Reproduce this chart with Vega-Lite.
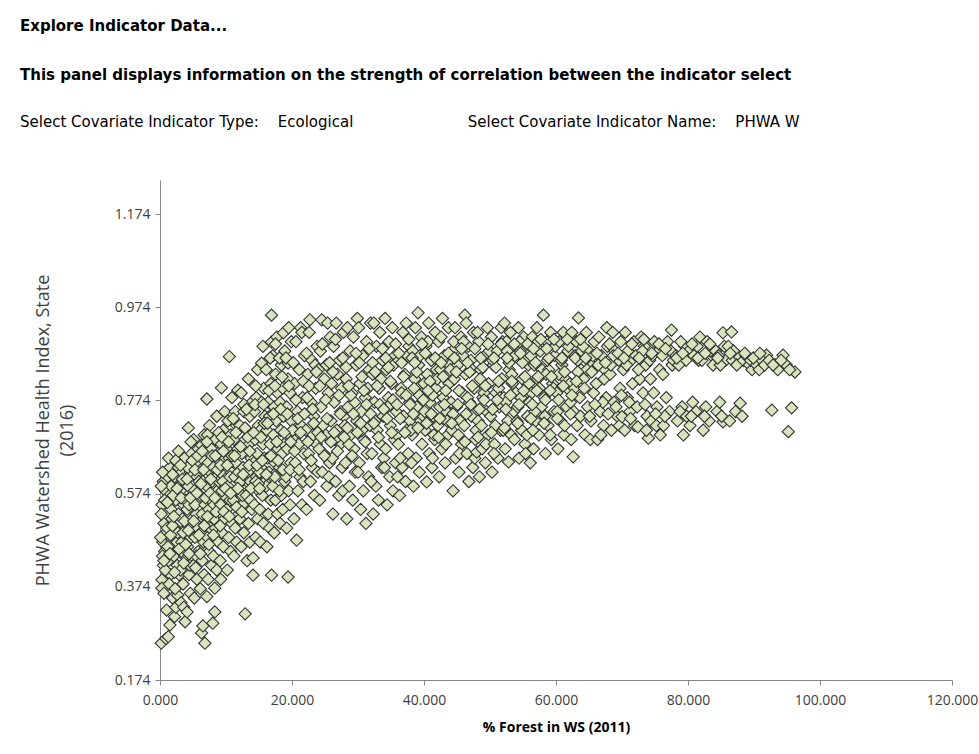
{
  "$schema": "https://vega.github.io/schema/vega-lite/v6.json",
  "width": 792,
  "height": 500,
  "autosize": {"type": "none"},
  "padding": {"left": 160, "top": 180, "right": 27, "bottom": 74},
  "background": "white",
  "title": {
    "text": ["Explore Indicator Data...", "This panel displays information on the strength of correlation between the indicator select"],
    "anchor": "start",
    "frame": "group",
    "dx": -140,
    "font": "DejaVu Sans",
    "fontSize": 15,
    "fontWeight": "bold",
    "color": "#000000",
    "lineHeight": 49,
    "offset": 50,
    "subtitle": "Select Covariate Indicator Type:\u00a0\u00a0\u00a0\u00a0Ecological\u00a0\u00a0\u00a0\u00a0\u00a0\u00a0\u00a0\u00a0\u00a0\u00a0\u00a0\u00a0\u00a0\u00a0\u00a0\u00a0\u00a0\u00a0\u00a0\u00a0\u00a0\u00a0\u00a0\u00a0Select Covariate Indicator Name:\u00a0\u00a0\u00a0\u00a0PHWA W",
    "subtitleFont": "DejaVu Sans",
    "subtitleFontSize": 15,
    "subtitleColor": "#000000",
    "subtitlePadding": 32
  },
  "config": {
    "view": {"stroke": null},
    "axis": {
      "grid": false,
      "domainColor": "#868686",
      "tickColor": "#868686",
      "tickSize": 5,
      "labelFlush": false,
      "labelFont": "Open Sans",
      "labelFontSize": 14,
      "labelColor": "#404040",
      "titleFont": "Open Sans",
      "titleColor": "#404040"
    }
  },
  "data": {"values": [
    {"forest":0.2,"phwa":0.253},{"forest":0.3,"phwa":0.389},{"forest":0.3,"phwa":0.371},{"forest":0.5,"phwa":0.42},{"forest":0.4,"phwa":0.47},{"forest":0.6,"phwa":0.51},{"forest":0.3,"phwa":0.55},{"forest":0.8,"phwa":0.58},{"forest":0.5,"phwa":0.6},{"forest":0.7,"phwa":0.45},{"forest":0.9,"phwa":0.49},{"forest":0.2,"phwa":0.53},{"forest":0.6,"phwa":0.36},{"forest":0.9,"phwa":0.263},{"forest":0.4,"phwa":0.44},
    {"forest":1.26,"phwa":0.267},{"forest":1.5,"phwa":0.292},{"forest":1.0,"phwa":0.324},{"forest":1.2,"phwa":0.61},{"forest":1.4,"phwa":0.57},{"forest":1.7,"phwa":0.54},{"forest":1.1,"phwa":0.5},{"forest":1.8,"phwa":0.47},{"forest":1.3,"phwa":0.43},{"forest":1.6,"phwa":0.4},{"forest":1.9,"phwa":0.35},{"forest":1.5,"phwa":0.63},{"forest":1.2,"phwa":0.46},{"forest":1.8,"phwa":0.52},{"forest":1.4,"phwa":0.38},{"forest":1.7,"phwa":0.59},
    {"forest":2.5,"phwa":0.642},{"forest":2.7,"phwa":0.356},{"forest":2.2,"phwa":0.31},{"forest":2.4,"phwa":0.33},{"forest":2.9,"phwa":0.4},{"forest":2.1,"phwa":0.44},{"forest":2.6,"phwa":0.47},{"forest":2.3,"phwa":0.5},{"forest":2.8,"phwa":0.53},{"forest":2.4,"phwa":0.56},{"forest":2.9,"phwa":0.59},{"forest":2.2,"phwa":0.61},{"forest":2.6,"phwa":0.42},{"forest":2.0,"phwa":0.57},{"forest":2.7,"phwa":0.49},{"forest":2.3,"phwa":0.37},{"forest":2.8,"phwa":0.63},
    {"forest":3.8,"phwa":0.299},{"forest":3.2,"phwa":0.34},{"forest":3.5,"phwa":0.38},{"forest":3.1,"phwa":0.41},{"forest":3.7,"phwa":0.44},{"forest":3.3,"phwa":0.47},{"forest":3.9,"phwa":0.5},{"forest":3.4,"phwa":0.52},{"forest":3.6,"phwa":0.55},{"forest":3.1,"phwa":0.58},{"forest":3.8,"phwa":0.6},{"forest":3.3,"phwa":0.62},{"forest":3.7,"phwa":0.65},{"forest":3.5,"phwa":0.49},{"forest":3.2,"phwa":0.45},{"forest":3.9,"phwa":0.56},{"forest":3.6,"phwa":0.33},
    {"forest":4.3,"phwa":0.715},{"forest":4.1,"phwa":0.32},{"forest":4.6,"phwa":0.36},{"forest":4.4,"phwa":0.4},{"forest":4.8,"phwa":0.43},{"forest":4.2,"phwa":0.46},{"forest":4.7,"phwa":0.48},{"forest":4.5,"phwa":0.51},{"forest":4.1,"phwa":0.54},{"forest":4.9,"phwa":0.57},{"forest":4.3,"phwa":0.59},{"forest":4.6,"phwa":0.62},{"forest":4.8,"phwa":0.66},{"forest":4.2,"phwa":0.63},{"forest":4.5,"phwa":0.42},{"forest":4.9,"phwa":0.52},{"forest":4.4,"phwa":0.55},
    {"forest":5.2,"phwa":0.35},{"forest":5.6,"phwa":0.39},{"forest":5.1,"phwa":0.42},{"forest":5.8,"phwa":0.45},{"forest":5.3,"phwa":0.48},{"forest":5.7,"phwa":0.5},{"forest":5.5,"phwa":0.53},{"forest":5.9,"phwa":0.56},{"forest":5.2,"phwa":0.58},{"forest":5.6,"phwa":0.61},{"forest":5.4,"phwa":0.64},{"forest":5.8,"phwa":0.67},{"forest":5.1,"phwa":0.69},{"forest":5.5,"phwa":0.44},{"forest":5.9,"phwa":0.6},{"forest":5.3,"phwa":0.55},
    {"forest":6.3,"phwa":0.275},{"forest":6.8,"phwa":0.253},{"forest":6.3,"phwa":0.678},{"forest":6.5,"phwa":0.29},{"forest":6.1,"phwa":0.37},{"forest":6.7,"phwa":0.4},{"forest":6.4,"phwa":0.43},{"forest":6.9,"phwa":0.46},{"forest":6.2,"phwa":0.49},{"forest":6.6,"phwa":0.52},{"forest":6.8,"phwa":0.55},{"forest":6.1,"phwa":0.57},{"forest":6.5,"phwa":0.6},{"forest":6.9,"phwa":0.63},{"forest":6.3,"phwa":0.65},{"forest":6.7,"phwa":0.7},{"forest":6.4,"phwa":0.53},{"forest":6.6,"phwa":0.47},
    {"forest":7.1,"phwa":0.777},{"forest":7.1,"phwa":0.353},{"forest":7.3,"phwa":0.39},{"forest":7.8,"phwa":0.42},{"forest":7.5,"phwa":0.45},{"forest":7.2,"phwa":0.48},{"forest":7.9,"phwa":0.51},{"forest":7.4,"phwa":0.54},{"forest":7.7,"phwa":0.56},{"forest":7.1,"phwa":0.59},{"forest":7.6,"phwa":0.62},{"forest":7.3,"phwa":0.64},{"forest":7.8,"phwa":0.67},{"forest":7.5,"phwa":0.72},{"forest":7.9,"phwa":0.6},{"forest":7.2,"phwa":0.7},{"forest":7.6,"phwa":0.5},
    {"forest":8.0,"phwa":0.296},{"forest":8.3,"phwa":0.32},{"forest":8.3,"phwa":0.371},{"forest":8.6,"phwa":0.41},{"forest":8.1,"phwa":0.44},{"forest":8.8,"phwa":0.47},{"forest":8.4,"phwa":0.5},{"forest":8.9,"phwa":0.53},{"forest":8.2,"phwa":0.55},{"forest":8.7,"phwa":0.58},{"forest":8.5,"phwa":0.61},{"forest":8.1,"phwa":0.63},{"forest":8.8,"phwa":0.66},{"forest":8.4,"phwa":0.69},{"forest":8.6,"phwa":0.74},{"forest":8.9,"phwa":0.6},{"forest":8.2,"phwa":0.52},
    {"forest":9.3,"phwa":0.801},{"forest":9.1,"phwa":0.43},{"forest":9.6,"phwa":0.46},{"forest":9.4,"phwa":0.49},{"forest":9.8,"phwa":0.52},{"forest":9.2,"phwa":0.55},{"forest":9.7,"phwa":0.57},{"forest":9.5,"phwa":0.6},{"forest":9.1,"phwa":0.62},{"forest":9.9,"phwa":0.65},{"forest":9.3,"phwa":0.68},{"forest":9.6,"phwa":0.71},{"forest":9.8,"phwa":0.75},{"forest":9.4,"phwa":0.58},{"forest":9.2,"phwa":0.39},
    {"forest":10.5,"phwa":0.868},{"forest":10.2,"phwa":0.41},{"forest":10.7,"phwa":0.45},{"forest":10.4,"phwa":0.48},{"forest":10.9,"phwa":0.51},{"forest":10.1,"phwa":0.54},{"forest":10.6,"phwa":0.56},{"forest":10.3,"phwa":0.59},{"forest":10.8,"phwa":0.62},{"forest":10.5,"phwa":0.65},{"forest":10.1,"phwa":0.67},{"forest":10.7,"phwa":0.7},{"forest":10.3,"phwa":0.73},{"forest":10.9,"phwa":0.78},{"forest":10.6,"phwa":0.61},
    {"forest":11.8,"phwa":0.796},{"forest":11.2,"phwa":0.44},{"forest":11.6,"phwa":0.47},{"forest":11.4,"phwa":0.5},{"forest":11.9,"phwa":0.53},{"forest":11.1,"phwa":0.56},{"forest":11.7,"phwa":0.58},{"forest":11.3,"phwa":0.61},{"forest":11.5,"phwa":0.64},{"forest":11.8,"phwa":0.67},{"forest":11.2,"phwa":0.69},{"forest":11.6,"phwa":0.72},{"forest":11.4,"phwa":0.75},{"forest":11.9,"phwa":0.62},
    {"forest":12.9,"phwa":0.316},{"forest":12.3,"phwa":0.46},{"forest":12.7,"phwa":0.49},{"forest":12.1,"phwa":0.52},{"forest":12.5,"phwa":0.55},{"forest":12.8,"phwa":0.58},{"forest":12.2,"phwa":0.6},{"forest":12.6,"phwa":0.63},{"forest":12.4,"phwa":0.66},{"forest":12.9,"phwa":0.69},{"forest":12.1,"phwa":0.72},{"forest":12.7,"phwa":0.75},{"forest":12.3,"phwa":0.79},{"forest":12.5,"phwa":0.57},
    {"forest":13.2,"phwa":0.43},{"forest":13.6,"phwa":0.47},{"forest":13.4,"phwa":0.51},{"forest":13.9,"phwa":0.54},{"forest":13.1,"phwa":0.57},{"forest":13.7,"phwa":0.6},{"forest":13.3,"phwa":0.62},{"forest":13.8,"phwa":0.65},{"forest":13.5,"phwa":0.68},{"forest":13.2,"phwa":0.71},{"forest":13.6,"phwa":0.74},{"forest":13.9,"phwa":0.77},{"forest":13.4,"phwa":0.82},{"forest":13.7,"phwa":0.56},
    {"forest":14.1,"phwa":0.399},{"forest":14.1,"phwa":0.436},{"forest":14.5,"phwa":0.48},{"forest":14.8,"phwa":0.52},{"forest":14.3,"phwa":0.55},{"forest":14.9,"phwa":0.58},{"forest":14.6,"phwa":0.61},{"forest":14.2,"phwa":0.64},{"forest":14.7,"phwa":0.66},{"forest":14.4,"phwa":0.69},{"forest":14.9,"phwa":0.72},{"forest":14.3,"phwa":0.75},{"forest":14.6,"phwa":0.78},{"forest":14.8,"phwa":0.84},{"forest":14.5,"phwa":0.6},
    {"forest":15.4,"phwa":0.854},{"forest":15.2,"phwa":0.47},{"forest":15.7,"phwa":0.51},{"forest":15.1,"phwa":0.54},{"forest":15.5,"phwa":0.57},{"forest":15.9,"phwa":0.6},{"forest":15.3,"phwa":0.63},{"forest":15.8,"phwa":0.65},{"forest":15.6,"phwa":0.68},{"forest":15.2,"phwa":0.71},{"forest":15.9,"phwa":0.74},{"forest":15.4,"phwa":0.77},{"forest":15.7,"phwa":0.8},{"forest":15.1,"phwa":0.62},{"forest":15.6,"phwa":0.89},
    {"forest":16.9,"phwa":0.957},{"forest":16.9,"phwa":0.899},{"forest":16.9,"phwa":0.399},{"forest":16.2,"phwa":0.46},{"forest":16.6,"phwa":0.5},{"forest":16.4,"phwa":0.53},{"forest":16.8,"phwa":0.56},{"forest":16.1,"phwa":0.59},{"forest":16.5,"phwa":0.62},{"forest":16.3,"phwa":0.65},{"forest":16.7,"phwa":0.68},{"forest":16.2,"phwa":0.71},{"forest":16.6,"phwa":0.74},{"forest":16.4,"phwa":0.77},{"forest":16.8,"phwa":0.81},{"forest":16.1,"phwa":0.84},
    {"forest":17.3,"phwa":0.49},{"forest":17.8,"phwa":0.53},{"forest":17.5,"phwa":0.56},{"forest":17.1,"phwa":0.59},{"forest":17.7,"phwa":0.62},{"forest":17.4,"phwa":0.64},{"forest":17.9,"phwa":0.67},{"forest":17.2,"phwa":0.7},{"forest":17.6,"phwa":0.73},{"forest":17.3,"phwa":0.76},{"forest":17.8,"phwa":0.79},{"forest":17.5,"phwa":0.83},{"forest":17.1,"phwa":0.87},{"forest":17.7,"phwa":0.91},{"forest":17.4,"phwa":0.61},
    {"forest":18.7,"phwa":0.919},{"forest":18.2,"phwa":0.51},{"forest":18.6,"phwa":0.54},{"forest":18.4,"phwa":0.57},{"forest":18.9,"phwa":0.6},{"forest":18.1,"phwa":0.63},{"forest":18.5,"phwa":0.66},{"forest":18.8,"phwa":0.68},{"forest":18.3,"phwa":0.71},{"forest":18.7,"phwa":0.74},{"forest":18.2,"phwa":0.77},{"forest":18.6,"phwa":0.8},{"forest":18.4,"phwa":0.85},{"forest":18.9,"phwa":0.88},{"forest":18.1,"phwa":0.58},
    {"forest":19.4,"phwa":0.395},{"forest":19.4,"phwa":0.854},{"forest":19.2,"phwa":0.5},{"forest":19.7,"phwa":0.55},{"forest":19.5,"phwa":0.58},{"forest":19.1,"phwa":0.61},{"forest":19.8,"phwa":0.64},{"forest":19.3,"phwa":0.67},{"forest":19.6,"phwa":0.7},{"forest":19.9,"phwa":0.73},{"forest":19.2,"phwa":0.76},{"forest":19.7,"phwa":0.79},{"forest":19.4,"phwa":0.82},{"forest":19.9,"phwa":0.9},{"forest":19.5,"phwa":0.93},
    {"forest":20.7,"phwa":0.474},{"forest":20.3,"phwa":0.52},{"forest":21.5,"phwa":0.55},{"forest":20.9,"phwa":0.58},{"forest":21.2,"phwa":0.61},{"forest":20.5,"phwa":0.64},{"forest":21.8,"phwa":0.66},{"forest":20.2,"phwa":0.69},{"forest":21.4,"phwa":0.72},{"forest":20.8,"phwa":0.75},{"forest":21.6,"phwa":0.78},{"forest":20.4,"phwa":0.81},{"forest":21.1,"phwa":0.84},{"forest":21.9,"phwa":0.87},{"forest":20.6,"phwa":0.9},{"forest":21.3,"phwa":0.93},{"forest":21.7,"phwa":0.6},{"forest":20.1,"phwa":0.71},{"forest":21.0,"phwa":0.68},{"forest":21.5,"phwa":0.92},
    {"forest":22.7,"phwa":0.947},{"forest":22.2,"phwa":0.54},{"forest":23.4,"phwa":0.57},{"forest":22.8,"phwa":0.6},{"forest":23.1,"phwa":0.63},{"forest":22.5,"phwa":0.66},{"forest":23.7,"phwa":0.68},{"forest":22.1,"phwa":0.71},{"forest":23.3,"phwa":0.74},{"forest":22.9,"phwa":0.77},{"forest":23.6,"phwa":0.8},{"forest":22.4,"phwa":0.83},{"forest":23.0,"phwa":0.86},{"forest":23.8,"phwa":0.89},{"forest":22.6,"phwa":0.92},{"forest":23.2,"phwa":0.7},{"forest":23.9,"phwa":0.62},{"forest":22.3,"phwa":0.78},{"forest":23.5,"phwa":0.85},
    {"forest":24.5,"phwa":0.947},{"forest":24.8,"phwa":0.66},{"forest":24.2,"phwa":0.56},{"forest":25.3,"phwa":0.59},{"forest":24.6,"phwa":0.62},{"forest":25.7,"phwa":0.64},{"forest":24.1,"phwa":0.67},{"forest":25.1,"phwa":0.7},{"forest":25.9,"phwa":0.73},{"forest":24.4,"phwa":0.76},{"forest":25.5,"phwa":0.79},{"forest":24.9,"phwa":0.82},{"forest":25.2,"phwa":0.85},{"forest":24.3,"phwa":0.88},{"forest":25.8,"phwa":0.91},{"forest":25.4,"phwa":0.94},{"forest":24.7,"phwa":0.72},{"forest":25.6,"phwa":0.61},{"forest":24.0,"phwa":0.84},
    {"forest":26.2,"phwa":0.53},{"forest":27.1,"phwa":0.57},{"forest":26.6,"phwa":0.6},{"forest":27.6,"phwa":0.63},{"forest":26.1,"phwa":0.65},{"forest":27.3,"phwa":0.68},{"forest":26.8,"phwa":0.71},{"forest":27.9,"phwa":0.74},{"forest":26.4,"phwa":0.77},{"forest":27.5,"phwa":0.8},{"forest":26.9,"phwa":0.83},{"forest":27.2,"phwa":0.86},{"forest":26.3,"phwa":0.89},{"forest":27.8,"phwa":0.92},{"forest":26.7,"phwa":0.94},{"forest":27.4,"phwa":0.75},{"forest":26.5,"phwa":0.69},{"forest":27.7,"phwa":0.58},{"forest":26.0,"phwa":0.81},
    {"forest":28.3,"phwa":0.52},{"forest":29.2,"phwa":0.56},{"forest":28.7,"phwa":0.59},{"forest":29.6,"phwa":0.62},{"forest":28.1,"phwa":0.64},{"forest":29.4,"phwa":0.67},{"forest":28.9,"phwa":0.7},{"forest":29.8,"phwa":0.73},{"forest":28.5,"phwa":0.76},{"forest":29.1,"phwa":0.79},{"forest":28.2,"phwa":0.82},{"forest":29.7,"phwa":0.85},{"forest":28.8,"phwa":0.88},{"forest":29.3,"phwa":0.91},{"forest":28.4,"phwa":0.93},{"forest":29.9,"phwa":0.95},{"forest":28.6,"phwa":0.68},{"forest":29.5,"phwa":0.77},{"forest":28.0,"phwa":0.72},
    {"forest":30.4,"phwa":0.54},{"forest":31.2,"phwa":0.51},{"forest":30.8,"phwa":0.58},{"forest":31.6,"phwa":0.61},{"forest":30.2,"phwa":0.64},{"forest":31.4,"phwa":0.66},{"forest":30.9,"phwa":0.69},{"forest":31.8,"phwa":0.72},{"forest":30.5,"phwa":0.75},{"forest":31.1,"phwa":0.78},{"forest":30.3,"phwa":0.81},{"forest":31.7,"phwa":0.84},{"forest":30.7,"phwa":0.87},{"forest":31.3,"phwa":0.9},{"forest":30.1,"phwa":0.93},{"forest":31.9,"phwa":0.94},{"forest":30.6,"phwa":0.71},{"forest":31.5,"phwa":0.8},{"forest":30.0,"phwa":0.62},
    {"forest":32.3,"phwa":0.53},{"forest":33.1,"phwa":0.56},{"forest":32.7,"phwa":0.59},{"forest":33.6,"phwa":0.63},{"forest":32.1,"phwa":0.66},{"forest":33.4,"phwa":0.68},{"forest":32.9,"phwa":0.71},{"forest":33.8,"phwa":0.74},{"forest":32.5,"phwa":0.77},{"forest":33.2,"phwa":0.8},{"forest":32.2,"phwa":0.83},{"forest":33.7,"phwa":0.86},{"forest":32.8,"phwa":0.89},{"forest":33.3,"phwa":0.92},{"forest":32.4,"phwa":0.94},{"forest":33.9,"phwa":0.65},{"forest":32.6,"phwa":0.73},{"forest":33.5,"phwa":0.82},{"forest":32.0,"phwa":0.6},
    {"forest":34.4,"phwa":0.55},{"forest":35.3,"phwa":0.58},{"forest":34.8,"phwa":0.61},{"forest":35.7,"phwa":0.64},{"forest":34.2,"phwa":0.67},{"forest":35.5,"phwa":0.69},{"forest":34.9,"phwa":0.72},{"forest":35.8,"phwa":0.75},{"forest":34.6,"phwa":0.78},{"forest":35.1,"phwa":0.81},{"forest":34.3,"phwa":0.84},{"forest":35.6,"phwa":0.87},{"forest":34.7,"phwa":0.9},{"forest":35.2,"phwa":0.93},{"forest":34.1,"phwa":0.95},{"forest":35.9,"phwa":0.7},{"forest":34.5,"phwa":0.76},{"forest":35.4,"phwa":0.85},{"forest":34.0,"phwa":0.63},
    {"forest":36.3,"phwa":0.57},{"forest":37.2,"phwa":0.6},{"forest":36.7,"phwa":0.63},{"forest":37.6,"phwa":0.66},{"forest":36.1,"phwa":0.68},{"forest":37.4,"phwa":0.71},{"forest":36.9,"phwa":0.74},{"forest":37.8,"phwa":0.77},{"forest":36.5,"phwa":0.8},{"forest":37.1,"phwa":0.83},{"forest":36.2,"phwa":0.86},{"forest":37.7,"phwa":0.89},{"forest":36.8,"phwa":0.92},{"forest":37.3,"phwa":0.94},{"forest":36.4,"phwa":0.65},{"forest":37.9,"phwa":0.73},{"forest":36.6,"phwa":0.79},{"forest":37.5,"phwa":0.87},{"forest":36.0,"phwa":0.61},
    {"forest":39.1,"phwa":0.962},{"forest":38.4,"phwa":0.59},{"forest":39.3,"phwa":0.62},{"forest":38.8,"phwa":0.65},{"forest":39.7,"phwa":0.68},{"forest":38.2,"phwa":0.7},{"forest":39.5,"phwa":0.73},{"forest":38.9,"phwa":0.76},{"forest":39.8,"phwa":0.79},{"forest":38.6,"phwa":0.82},{"forest":39.2,"phwa":0.85},{"forest":38.3,"phwa":0.88},{"forest":39.6,"phwa":0.91},{"forest":38.7,"phwa":0.93},{"forest":38.1,"phwa":0.64},{"forest":39.9,"phwa":0.74},{"forest":38.5,"phwa":0.8},{"forest":39.4,"phwa":0.87},{"forest":38.0,"phwa":0.71},
    {"forest":40.4,"phwa":0.599},{"forest":41.2,"phwa":0.63},{"forest":40.8,"phwa":0.66},{"forest":41.6,"phwa":0.69},{"forest":40.2,"phwa":0.71},{"forest":41.4,"phwa":0.74},{"forest":40.9,"phwa":0.77},{"forest":41.8,"phwa":0.8},{"forest":40.5,"phwa":0.83},{"forest":41.1,"phwa":0.86},{"forest":40.3,"phwa":0.89},{"forest":41.7,"phwa":0.92},{"forest":40.7,"phwa":0.94},{"forest":41.3,"phwa":0.65},{"forest":40.1,"phwa":0.75},{"forest":41.9,"phwa":0.84},{"forest":40.6,"phwa":0.9},{"forest":41.5,"phwa":0.7},{"forest":40.0,"phwa":0.81},
    {"forest":42.3,"phwa":0.61},{"forest":43.2,"phwa":0.64},{"forest":42.7,"phwa":0.67},{"forest":43.6,"phwa":0.7},{"forest":42.1,"phwa":0.72},{"forest":43.4,"phwa":0.75},{"forest":42.9,"phwa":0.78},{"forest":43.8,"phwa":0.81},{"forest":42.5,"phwa":0.84},{"forest":43.1,"phwa":0.87},{"forest":42.2,"phwa":0.9},{"forest":43.7,"phwa":0.93},{"forest":42.8,"phwa":0.95},{"forest":43.3,"phwa":0.68},{"forest":42.4,"phwa":0.76},{"forest":43.9,"phwa":0.85},{"forest":42.6,"phwa":0.91},{"forest":43.5,"phwa":0.73},{"forest":42.0,"phwa":0.82},
    {"forest":44.4,"phwa":0.58},{"forest":45.3,"phwa":0.62},{"forest":44.8,"phwa":0.65},{"forest":45.7,"phwa":0.68},{"forest":44.2,"phwa":0.71},{"forest":45.5,"phwa":0.73},{"forest":44.9,"phwa":0.76},{"forest":45.8,"phwa":0.79},{"forest":44.6,"phwa":0.82},{"forest":45.1,"phwa":0.85},{"forest":44.3,"phwa":0.88},{"forest":45.6,"phwa":0.91},{"forest":44.7,"phwa":0.93},{"forest":45.2,"phwa":0.7},{"forest":44.1,"phwa":0.77},{"forest":45.9,"phwa":0.87},{"forest":44.5,"phwa":0.9},{"forest":45.4,"phwa":0.66},{"forest":44.0,"phwa":0.84},
    {"forest":46.2,"phwa":0.957},{"forest":46.8,"phwa":0.6},{"forest":47.4,"phwa":0.63},{"forest":46.5,"phwa":0.66},{"forest":47.8,"phwa":0.69},{"forest":46.1,"phwa":0.72},{"forest":47.2,"phwa":0.74},{"forest":46.9,"phwa":0.77},{"forest":47.6,"phwa":0.8},{"forest":46.3,"phwa":0.83},{"forest":47.1,"phwa":0.86},{"forest":46.7,"phwa":0.89},{"forest":47.5,"phwa":0.92},{"forest":46.4,"phwa":0.94},{"forest":47.9,"phwa":0.71},{"forest":46.6,"phwa":0.78},{"forest":47.3,"phwa":0.84},{"forest":46.0,"phwa":0.9},{"forest":47.7,"phwa":0.65},
    {"forest":48.0,"phwa":0.663},{"forest":48.4,"phwa":0.61},{"forest":49.3,"phwa":0.64},{"forest":48.8,"phwa":0.67},{"forest":49.7,"phwa":0.7},{"forest":48.2,"phwa":0.73},{"forest":49.5,"phwa":0.75},{"forest":48.9,"phwa":0.78},{"forest":49.8,"phwa":0.81},{"forest":48.6,"phwa":0.84},{"forest":49.2,"phwa":0.87},{"forest":48.3,"phwa":0.9},{"forest":49.6,"phwa":0.93},{"forest":48.7,"phwa":0.72},{"forest":49.1,"phwa":0.79},{"forest":49.9,"phwa":0.88},{"forest":48.5,"phwa":0.82},{"forest":49.4,"phwa":0.68},{"forest":48.1,"phwa":0.92},
    {"forest":50.3,"phwa":0.62},{"forest":51.2,"phwa":0.65},{"forest":50.7,"phwa":0.68},{"forest":51.6,"phwa":0.71},{"forest":50.1,"phwa":0.74},{"forest":51.4,"phwa":0.76},{"forest":50.9,"phwa":0.79},{"forest":51.8,"phwa":0.82},{"forest":50.5,"phwa":0.85},{"forest":51.1,"phwa":0.88},{"forest":50.2,"phwa":0.91},{"forest":51.7,"phwa":0.93},{"forest":50.8,"phwa":0.72},{"forest":51.3,"phwa":0.8},{"forest":50.4,"phwa":0.86},{"forest":51.9,"phwa":0.9},{"forest":50.6,"phwa":0.66},{"forest":51.5,"phwa":0.78},
    {"forest":52.8,"phwa":0.642},{"forest":52.3,"phwa":0.67},{"forest":53.2,"phwa":0.7},{"forest":52.7,"phwa":0.73},{"forest":53.6,"phwa":0.75},{"forest":52.1,"phwa":0.78},{"forest":53.4,"phwa":0.81},{"forest":52.9,"phwa":0.84},{"forest":53.8,"phwa":0.87},{"forest":52.5,"phwa":0.9},{"forest":53.1,"phwa":0.92},{"forest":52.2,"phwa":0.94},{"forest":53.7,"phwa":0.69},{"forest":52.4,"phwa":0.77},{"forest":53.3,"phwa":0.83},{"forest":52.6,"phwa":0.88},{"forest":53.9,"phwa":0.79},{"forest":52.0,"phwa":0.71},
    {"forest":54.4,"phwa":0.65},{"forest":55.3,"phwa":0.68},{"forest":54.8,"phwa":0.71},{"forest":55.7,"phwa":0.74},{"forest":54.2,"phwa":0.76},{"forest":55.5,"phwa":0.79},{"forest":54.9,"phwa":0.82},{"forest":55.8,"phwa":0.85},{"forest":54.6,"phwa":0.88},{"forest":55.1,"phwa":0.91},{"forest":54.3,"phwa":0.93},{"forest":55.6,"phwa":0.7},{"forest":54.7,"phwa":0.78},{"forest":55.2,"phwa":0.86},{"forest":54.1,"phwa":0.73},{"forest":55.9,"phwa":0.81},{"forest":54.5,"phwa":0.9},{"forest":55.4,"phwa":0.66},
    {"forest":56.1,"phwa":0.64},{"forest":56.6,"phwa":0.67},{"forest":57.4,"phwa":0.7},{"forest":56.9,"phwa":0.73},{"forest":57.8,"phwa":0.76},{"forest":56.3,"phwa":0.79},{"forest":57.2,"phwa":0.82},{"forest":56.7,"phwa":0.85},{"forest":57.6,"phwa":0.88},{"forest":56.4,"phwa":0.91},{"forest":57.1,"phwa":0.93},{"forest":56.8,"phwa":0.75},{"forest":57.5,"phwa":0.8},{"forest":56.2,"phwa":0.87},{"forest":57.9,"phwa":0.84},{"forest":56.5,"phwa":0.71},{"forest":57.3,"phwa":0.9},{"forest":56.0,"phwa":0.77},
    {"forest":58.1,"phwa":0.957},{"forest":58.4,"phwa":0.66},{"forest":59.3,"phwa":0.69},{"forest":58.8,"phwa":0.72},{"forest":59.7,"phwa":0.75},{"forest":58.2,"phwa":0.78},{"forest":59.5,"phwa":0.81},{"forest":58.9,"phwa":0.84},{"forest":59.8,"phwa":0.87},{"forest":58.6,"phwa":0.9},{"forest":59.2,"phwa":0.92},{"forest":58.3,"phwa":0.74},{"forest":59.6,"phwa":0.8},{"forest":58.7,"phwa":0.86},{"forest":59.1,"phwa":0.7},{"forest":59.9,"phwa":0.89},{"forest":58.5,"phwa":0.83},
    {"forest":60.3,"phwa":0.67},{"forest":61.2,"phwa":0.7},{"forest":60.7,"phwa":0.73},{"forest":61.6,"phwa":0.76},{"forest":60.1,"phwa":0.79},{"forest":61.4,"phwa":0.82},{"forest":60.9,"phwa":0.85},{"forest":61.8,"phwa":0.88},{"forest":60.5,"phwa":0.9},{"forest":61.1,"phwa":0.92},{"forest":60.2,"phwa":0.75},{"forest":61.7,"phwa":0.8},{"forest":60.8,"phwa":0.86},{"forest":61.3,"phwa":0.72},{"forest":60.4,"phwa":0.83},{"forest":61.9,"phwa":0.89},
    {"forest":62.6,"phwa":0.653},{"forest":63.4,"phwa":0.951},{"forest":62.3,"phwa":0.69},{"forest":63.2,"phwa":0.72},{"forest":62.7,"phwa":0.75},{"forest":63.6,"phwa":0.78},{"forest":62.1,"phwa":0.81},{"forest":63.8,"phwa":0.84},{"forest":62.9,"phwa":0.87},{"forest":63.1,"phwa":0.9},{"forest":62.4,"phwa":0.92},{"forest":63.7,"phwa":0.74},{"forest":62.8,"phwa":0.8},{"forest":63.3,"phwa":0.86},{"forest":62.2,"phwa":0.77},{"forest":63.9,"phwa":0.88},
    {"forest":64.4,"phwa":0.7},{"forest":65.3,"phwa":0.73},{"forest":64.8,"phwa":0.76},{"forest":65.7,"phwa":0.79},{"forest":64.2,"phwa":0.82},{"forest":65.5,"phwa":0.85},{"forest":64.9,"phwa":0.88},{"forest":65.8,"phwa":0.9},{"forest":64.6,"phwa":0.92},{"forest":65.1,"phwa":0.74},{"forest":64.3,"phwa":0.8},{"forest":65.6,"phwa":0.87},{"forest":64.7,"phwa":0.84},{"forest":65.2,"phwa":0.69},{"forest":64.1,"phwa":0.89},
    {"forest":66.3,"phwa":0.69},{"forest":67.2,"phwa":0.72},{"forest":66.7,"phwa":0.75},{"forest":67.6,"phwa":0.78},{"forest":66.1,"phwa":0.81},{"forest":67.4,"phwa":0.84},{"forest":66.9,"phwa":0.87},{"forest":67.8,"phwa":0.89},{"forest":66.5,"phwa":0.91},{"forest":67.1,"phwa":0.77},{"forest":66.4,"phwa":0.85},{"forest":67.7,"phwa":0.93},{"forest":66.8,"phwa":0.7},{"forest":67.3,"phwa":0.82},
    {"forest":68.4,"phwa":0.71},{"forest":69.3,"phwa":0.74},{"forest":68.8,"phwa":0.77},{"forest":69.7,"phwa":0.8},{"forest":68.2,"phwa":0.83},{"forest":69.5,"phwa":0.86},{"forest":68.9,"phwa":0.88},{"forest":69.8,"phwa":0.9},{"forest":68.6,"phwa":0.92},{"forest":69.1,"phwa":0.76},{"forest":68.3,"phwa":0.85},{"forest":69.6,"phwa":0.72},{"forest":68.7,"phwa":0.87},
    {"forest":70.0,"phwa":0.739},{"forest":70.4,"phwa":0.71},{"forest":71.2,"phwa":0.75},{"forest":70.8,"phwa":0.78},{"forest":71.6,"phwa":0.81},{"forest":70.2,"phwa":0.84},{"forest":71.4,"phwa":0.86},{"forest":70.9,"phwa":0.88},{"forest":71.8,"phwa":0.9},{"forest":70.5,"phwa":0.92},{"forest":71.1,"phwa":0.77},{"forest":70.7,"phwa":0.85},{"forest":71.9,"phwa":0.72},
    {"forest":72.4,"phwa":0.717},{"forest":74.0,"phwa":0.693},{"forest":72.3,"phwa":0.76},{"forest":73.2,"phwa":0.79},{"forest":72.7,"phwa":0.82},{"forest":73.6,"phwa":0.85},{"forest":72.1,"phwa":0.87},{"forest":73.4,"phwa":0.89},{"forest":72.9,"phwa":0.91},{"forest":73.8,"phwa":0.74},{"forest":72.5,"phwa":0.84},{"forest":73.1,"phwa":0.88},{"forest":73.7,"phwa":0.71},
    {"forest":74.4,"phwa":0.73},{"forest":75.3,"phwa":0.76},{"forest":74.8,"phwa":0.79},{"forest":75.7,"phwa":0.84},{"forest":74.2,"phwa":0.86},{"forest":75.5,"phwa":0.88},{"forest":74.9,"phwa":0.9},{"forest":75.2,"phwa":0.72},{"forest":74.6,"phwa":0.87},{"forest":75.8,"phwa":0.7},{"forest":74.3,"phwa":0.82},
    {"forest":77.5,"phwa":0.925},{"forest":76.3,"phwa":0.72},{"forest":77.2,"phwa":0.75},{"forest":76.7,"phwa":0.78},{"forest":77.6,"phwa":0.85},{"forest":76.1,"phwa":0.87},{"forest":77.4,"phwa":0.88},{"forest":76.9,"phwa":0.9},{"forest":76.5,"phwa":0.74},{"forest":77.8,"phwa":0.86},{"forest":76.2,"phwa":0.83},
    {"forest":79.3,"phwa":0.7},{"forest":78.4,"phwa":0.73},{"forest":79.1,"phwa":0.76},{"forest":78.8,"phwa":0.75},{"forest":79.7,"phwa":0.86},{"forest":78.2,"phwa":0.87},{"forest":79.5,"phwa":0.89},{"forest":78.9,"phwa":0.9},{"forest":78.6,"phwa":0.85},{"forest":79.8,"phwa":0.74},
    {"forest":80.3,"phwa":0.72},{"forest":81.2,"phwa":0.75},{"forest":80.7,"phwa":0.77},{"forest":81.6,"phwa":0.86},{"forest":80.1,"phwa":0.88},{"forest":81.4,"phwa":0.89},{"forest":80.9,"phwa":0.87},{"forest":81.8,"phwa":0.91},{"forest":80.5,"phwa":0.74},
    {"forest":82.3,"phwa":0.71},{"forest":83.2,"phwa":0.73},{"forest":82.7,"phwa":0.76},{"forest":83.6,"phwa":0.87},{"forest":82.1,"phwa":0.86},{"forest":83.4,"phwa":0.88},{"forest":82.9,"phwa":0.9},{"forest":83.8,"phwa":0.85},{"forest":82.5,"phwa":0.74},
    {"forest":85.3,"phwa":0.919},{"forest":85.3,"phwa":0.728},{"forest":84.4,"phwa":0.75},{"forest":84.8,"phwa":0.77},{"forest":85.7,"phwa":0.86},{"forest":84.2,"phwa":0.88},{"forest":85.5,"phwa":0.89},{"forest":84.9,"phwa":0.85},{"forest":85.1,"phwa":0.74},{"forest":84.6,"phwa":0.87},
    {"forest":86.6,"phwa":0.921},{"forest":87.9,"phwa":0.768},{"forest":86.3,"phwa":0.73},{"forest":87.2,"phwa":0.75},{"forest":86.7,"phwa":0.86},{"forest":87.6,"phwa":0.87},{"forest":86.1,"phwa":0.89},{"forest":87.4,"phwa":0.85},{"forest":86.9,"phwa":0.88},
    {"forest":88.4,"phwa":0.86},{"forest":89.3,"phwa":0.85},{"forest":88.8,"phwa":0.87},{"forest":89.7,"phwa":0.84},{"forest":88.2,"phwa":0.74},{"forest":89.5,"phwa":0.86},
    {"forest":91.9,"phwa":0.871},{"forest":90.4,"phwa":0.85},{"forest":91.2,"phwa":0.86},{"forest":90.8,"phwa":0.84},{"forest":91.6,"phwa":0.85},
    {"forest":92.7,"phwa":0.753},{"forest":92.3,"phwa":0.86},{"forest":93.2,"phwa":0.85},{"forest":93.6,"phwa":0.84},{"forest":92.9,"phwa":0.85},
    {"forest":94.4,"phwa":0.871},{"forest":95.7,"phwa":0.758},{"forest":95.2,"phwa":0.707},{"forest":96.2,"phwa":0.835},{"forest":94.9,"phwa":0.85},{"forest":95.4,"phwa":0.84},{"forest":94.1,"phwa":0.86},
    {"forest":0.1,"phwa":0.48},{"forest":0.7,"phwa":0.56},{"forest":0.4,"phwa":0.62},{"forest":0.8,"phwa":0.41},{"forest":0.2,"phwa":0.59},{"forest":0.6,"phwa":0.43},
    {"forest":1.1,"phwa":0.555},{"forest":1.6,"phwa":0.485},{"forest":1.9,"phwa":0.615},{"forest":1.3,"phwa":0.65},{"forest":1.5,"phwa":0.445},{"forest":1.9,"phwa":0.505},
    {"forest":2.1,"phwa":0.525},{"forest":2.6,"phwa":0.585},{"forest":2.9,"phwa":0.455},{"forest":2.4,"phwa":0.645},{"forest":2.2,"phwa":0.405},{"forest":2.8,"phwa":0.665},
    {"forest":3.2,"phwa":0.565},{"forest":3.7,"phwa":0.515},{"forest":3.4,"phwa":0.605},{"forest":3.9,"phwa":0.465},{"forest":3.1,"phwa":0.635},{"forest":3.6,"phwa":0.425},
    {"forest":4.1,"phwa":0.605},{"forest":4.6,"phwa":0.565},{"forest":4.3,"phwa":0.495},{"forest":4.9,"phwa":0.645},{"forest":4.4,"phwa":0.445},{"forest":4.7,"phwa":0.685},
    {"forest":5.1,"phwa":0.515},{"forest":5.6,"phwa":0.575},{"forest":5.3,"phwa":0.625},{"forest":5.9,"phwa":0.485},{"forest":5.4,"phwa":0.415},{"forest":5.7,"phwa":0.655},
    {"forest":6.2,"phwa":0.595},{"forest":6.7,"phwa":0.505},{"forest":6.4,"phwa":0.665},{"forest":6.9,"phwa":0.565},{"forest":6.1,"phwa":0.445},{"forest":6.6,"phwa":0.625},
    {"forest":7.2,"phwa":0.525},{"forest":7.7,"phwa":0.605},{"forest":7.4,"phwa":0.465},{"forest":7.9,"phwa":0.655},{"forest":7.1,"phwa":0.685},{"forest":7.6,"phwa":0.575},
    {"forest":8.3,"phwa":0.565},{"forest":8.7,"phwa":0.625},{"forest":8.1,"phwa":0.485},{"forest":8.9,"phwa":0.705},{"forest":8.5,"phwa":0.535},{"forest":8.4,"phwa":0.655},
    {"forest":9.2,"phwa":0.635},{"forest":9.7,"phwa":0.535},{"forest":9.4,"phwa":0.695},{"forest":9.9,"phwa":0.585},{"forest":9.1,"phwa":0.505},{"forest":9.6,"phwa":0.665},
    {"forest":10.2,"phwa":0.635},{"forest":10.7,"phwa":0.575},{"forest":10.4,"phwa":0.685},{"forest":10.9,"phwa":0.655},{"forest":10.5,"phwa":0.525},
    {"forest":11.3,"phwa":0.655},{"forest":11.8,"phwa":0.585},{"forest":11.5,"phwa":0.705},{"forest":11.1,"phwa":0.735},{"forest":11.6,"phwa":0.545},
    {"forest":12.2,"phwa":0.675},{"forest":12.6,"phwa":0.615},{"forest":12.9,"phwa":0.715},{"forest":12.4,"phwa":0.535},{"forest":12.7,"phwa":0.765},
    {"forest":13.3,"phwa":0.695},{"forest":13.8,"phwa":0.585},{"forest":13.5,"phwa":0.635},{"forest":13.1,"phwa":0.755},{"forest":13.6,"phwa":0.665},
    {"forest":14.2,"phwa":0.705},{"forest":14.7,"phwa":0.635},{"forest":14.4,"phwa":0.765},{"forest":14.9,"phwa":0.595},{"forest":14.5,"phwa":0.805},
    {"forest":15.3,"phwa":0.695},{"forest":15.8,"phwa":0.725},{"forest":15.5,"phwa":0.645},{"forest":15.1,"phwa":0.585},{"forest":15.7,"phwa":0.765},
    {"forest":16.3,"phwa":0.725},{"forest":16.8,"phwa":0.655},{"forest":16.5,"phwa":0.795},{"forest":16.1,"phwa":0.615},{"forest":16.7,"phwa":0.865},
    {"forest":17.2,"phwa":0.745},{"forest":17.7,"phwa":0.685},{"forest":17.4,"phwa":0.805},{"forest":17.9,"phwa":0.645},{"forest":17.5,"phwa":0.895},
    {"forest":18.3,"phwa":0.755},{"forest":18.8,"phwa":0.705},{"forest":18.5,"phwa":0.825},{"forest":18.1,"phwa":0.865},{"forest":18.6,"phwa":0.625},
    {"forest":19.3,"phwa":0.745},{"forest":19.8,"phwa":0.685},{"forest":19.5,"phwa":0.805},{"forest":19.1,"phwa":0.865},{"forest":19.7,"phwa":0.625},
    {"forest":20.4,"phwa":0.665},{"forest":21.3,"phwa":0.705},{"forest":20.9,"phwa":0.735},{"forest":21.7,"phwa":0.815},{"forest":20.2,"phwa":0.855},{"forest":21.1,"phwa":0.625},{"forest":20.6,"phwa":0.775},{"forest":21.9,"phwa":0.745},
    {"forest":22.4,"phwa":0.685},{"forest":23.3,"phwa":0.725},{"forest":22.9,"phwa":0.645},{"forest":23.7,"phwa":0.835},{"forest":22.2,"phwa":0.875},{"forest":23.1,"phwa":0.755},{"forest":22.6,"phwa":0.805},{"forest":23.9,"phwa":0.705},
    {"forest":24.4,"phwa":0.695},{"forest":25.3,"phwa":0.735},{"forest":24.9,"phwa":0.655},{"forest":25.7,"phwa":0.855},{"forest":24.2,"phwa":0.805},{"forest":25.1,"phwa":0.775},{"forest":24.6,"phwa":0.895},{"forest":25.9,"phwa":0.685},
    {"forest":26.4,"phwa":0.705},{"forest":27.3,"phwa":0.745},{"forest":26.9,"phwa":0.665},{"forest":27.7,"phwa":0.865},{"forest":26.2,"phwa":0.835},{"forest":27.1,"phwa":0.785},{"forest":26.6,"phwa":0.905},{"forest":27.9,"phwa":0.695},
    {"forest":28.4,"phwa":0.715},{"forest":29.3,"phwa":0.745},{"forest":28.9,"phwa":0.785},{"forest":29.7,"phwa":0.875},{"forest":28.2,"phwa":0.845},{"forest":29.1,"phwa":0.655},{"forest":28.6,"phwa":0.805},{"forest":29.9,"phwa":0.705},
    {"forest":30.4,"phwa":0.725},{"forest":31.3,"phwa":0.765},{"forest":30.9,"phwa":0.795},{"forest":31.7,"phwa":0.885},{"forest":30.2,"phwa":0.855},{"forest":31.1,"phwa":0.685},{"forest":30.6,"phwa":0.825},{"forest":31.9,"phwa":0.745},
    {"forest":32.4,"phwa":0.725},{"forest":33.3,"phwa":0.765},{"forest":32.9,"phwa":0.805},{"forest":33.7,"phwa":0.885},{"forest":32.2,"phwa":0.855},{"forest":33.1,"phwa":0.695},{"forest":32.6,"phwa":0.835},{"forest":33.9,"phwa":0.755},
    {"forest":34.4,"phwa":0.735},{"forest":35.3,"phwa":0.775},{"forest":34.9,"phwa":0.815},{"forest":35.7,"phwa":0.895},{"forest":34.2,"phwa":0.865},{"forest":35.1,"phwa":0.705},{"forest":34.6,"phwa":0.845},{"forest":35.9,"phwa":0.765},
    {"forest":36.4,"phwa":0.735},{"forest":37.3,"phwa":0.785},{"forest":36.9,"phwa":0.825},{"forest":37.7,"phwa":0.905},{"forest":36.2,"phwa":0.875},{"forest":37.1,"phwa":0.705},{"forest":36.6,"phwa":0.855},{"forest":37.9,"phwa":0.765},
    {"forest":38.4,"phwa":0.745},{"forest":39.3,"phwa":0.785},{"forest":38.9,"phwa":0.835},{"forest":39.7,"phwa":0.895},{"forest":38.2,"phwa":0.865},{"forest":39.1,"phwa":0.715},{"forest":38.6,"phwa":0.855},{"forest":39.9,"phwa":0.775},
    {"forest":40.4,"phwa":0.725},{"forest":41.3,"phwa":0.785},{"forest":40.9,"phwa":0.815},{"forest":41.7,"phwa":0.865},{"forest":40.2,"phwa":0.875},{"forest":41.1,"phwa":0.745},{"forest":40.6,"phwa":0.795},
    {"forest":42.4,"phwa":0.735},{"forest":43.3,"phwa":0.795},{"forest":42.9,"phwa":0.825},{"forest":43.7,"phwa":0.875},{"forest":42.2,"phwa":0.695},{"forest":43.1,"phwa":0.765},{"forest":42.6,"phwa":0.855},
    {"forest":44.4,"phwa":0.745},{"forest":45.3,"phwa":0.795},{"forest":44.9,"phwa":0.835},{"forest":45.7,"phwa":0.885},{"forest":44.2,"phwa":0.725},{"forest":45.1,"phwa":0.765},{"forest":44.6,"phwa":0.865},
    {"forest":46.4,"phwa":0.745},{"forest":47.3,"phwa":0.805},{"forest":46.9,"phwa":0.835},{"forest":47.7,"phwa":0.885},{"forest":46.2,"phwa":0.685},{"forest":47.1,"phwa":0.765},{"forest":46.6,"phwa":0.855},
    {"forest":48.4,"phwa":0.755},{"forest":49.3,"phwa":0.805},{"forest":48.9,"phwa":0.845},{"forest":49.7,"phwa":0.895},{"forest":48.2,"phwa":0.695},{"forest":49.1,"phwa":0.775},{"forest":48.6,"phwa":0.865},
    {"forest":50.4,"phwa":0.755},{"forest":51.3,"phwa":0.815},{"forest":50.9,"phwa":0.845},{"forest":51.7,"phwa":0.895},{"forest":50.2,"phwa":0.705},{"forest":51.1,"phwa":0.775},{"forest":50.6,"phwa":0.865},
    {"forest":52.4,"phwa":0.755},{"forest":53.3,"phwa":0.815},{"forest":52.9,"phwa":0.855},{"forest":53.7,"phwa":0.895},{"forest":52.2,"phwa":0.715},{"forest":53.1,"phwa":0.785},{"forest":52.6,"phwa":0.865},
    {"forest":54.4,"phwa":0.765},{"forest":55.3,"phwa":0.825},{"forest":54.9,"phwa":0.855},{"forest":55.7,"phwa":0.895},{"forest":54.2,"phwa":0.725},{"forest":55.1,"phwa":0.795},{"forest":54.6,"phwa":0.875},
    {"forest":56.4,"phwa":0.765},{"forest":57.3,"phwa":0.825},{"forest":56.9,"phwa":0.855},{"forest":57.7,"phwa":0.905},{"forest":56.2,"phwa":0.735},{"forest":57.1,"phwa":0.795},{"forest":56.6,"phwa":0.885},
    {"forest":58.4,"phwa":0.775},{"forest":59.3,"phwa":0.825},{"forest":58.9,"phwa":0.865},{"forest":59.7,"phwa":0.905},{"forest":58.2,"phwa":0.725},{"forest":59.1,"phwa":0.795},{"forest":58.6,"phwa":0.885},
    {"forest":60.4,"phwa":0.775},{"forest":61.3,"phwa":0.835},{"forest":60.9,"phwa":0.865},{"forest":61.7,"phwa":0.905},{"forest":60.2,"phwa":0.735},{"forest":61.1,"phwa":0.805},
    {"forest":62.4,"phwa":0.785},{"forest":63.3,"phwa":0.835},{"forest":62.9,"phwa":0.865},{"forest":63.7,"phwa":0.905},{"forest":62.2,"phwa":0.745},{"forest":63.1,"phwa":0.815},
    {"forest":64.5,"phwa":0.865},{"forest":65.4,"phwa":0.835},{"forest":66.2,"phwa":0.875},{"forest":67.5,"phwa":0.855},{"forest":68.1,"phwa":0.895},{"forest":69.4,"phwa":0.875},{"forest":70.3,"phwa":0.865},{"forest":71.5,"phwa":0.895},{"forest":72.6,"phwa":0.865},{"forest":73.3,"phwa":0.905},{"forest":74.5,"phwa":0.875},{"forest":75.6,"phwa":0.895},
    {"forest":65.9,"phwa":0.765},{"forest":67.9,"phwa":0.745},{"forest":69.9,"phwa":0.785},{"forest":71.3,"phwa":0.735},{"forest":73.5,"phwa":0.765},{"forest":75.1,"phwa":0.745},
    {"forest":76.6,"phwa":0.885},{"forest":78.3,"phwa":0.865},{"forest":79.2,"phwa":0.875},{"forest":80.6,"phwa":0.895},{"forest":81.5,"phwa":0.865},{"forest":82.6,"phwa":0.875},{"forest":83.3,"phwa":0.895},{"forest":84.5,"phwa":0.865},{"forest":86.4,"phwa":0.875},{"forest":88.6,"phwa":0.875},{"forest":89.9,"phwa":0.865},{"forest":90.9,"phwa":0.875}
  ]},
  "mark": {"type": "point", "shape": "diamond", "filled": true, "size": 150, "fill": "#d7e4bd", "stroke": "#333333", "strokeWidth": 1.1, "opacity": 1},
  "encoding": {
    "x": {
      "field": "forest", "type": "quantitative",
      "scale": {"domain": [0, 120], "nice": false, "zero": false},
      "axis": {"values": [0, 20, 40, 60, 80, 100, 120], "format": ".3f", "title": "% Forest in WS (2011)", "titleFontSize": 14, "titleFontWeight": "bold", "titleColor": "#000000", "labelPadding": 8, "titlePadding": 13}
    },
    "y": {
      "field": "phwa", "type": "quantitative",
      "scale": {"domain": [0.174, 1.247], "nice": false, "zero": false},
      "axis": {"values": [0.174, 0.374, 0.574, 0.774, 0.974, 1.174], "format": ".3f", "title": ["PHWA Watershed Health Index, State", "(2016)"], "titleFontSize": 18, "titleFontWeight": "normal", "titleLineHeight": 24, "titlePadding": 38, "labelPadding": 5}
    }
  }
}
